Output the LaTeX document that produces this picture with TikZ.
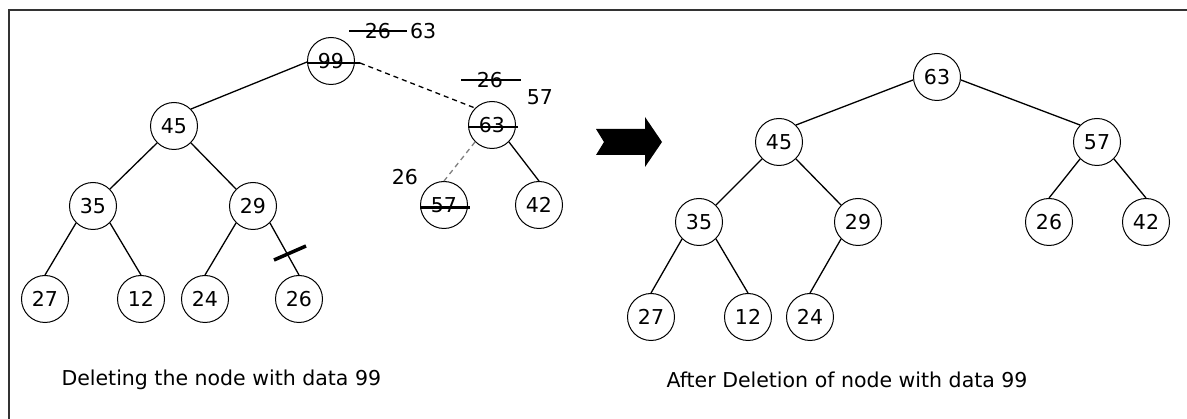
\documentclass[tikz,border=0pt]{standalone}
\usepackage{fontspec}
\setmainfont{DejaVu Sans}
\usetikzlibrary{positioning,calc}

\begin{document}
\begin{tikzpicture}[
			x=1pt, y=-1pt
			,every node/.append style={font=\fontsize{20.5}{24}\selectfont}
			,hn/.style={circle, draw, line width=1pt, minimum size=47pt, inner sep=0pt}
			,ln/.style={line width=1.3pt}
			,cut/.style={line width=2.2pt}
			,frame/.style={line width=1.6pt, black!80}
		]
			\useasboundingbox (0,0) rectangle (1187,419);
			\draw [frame] (9,419) -- (9,10) -- (1187,10);

			% before
			\node [hn] (L99) at (331,61) {99};
			\node [hn] (L45) at (174,126) {45};
			\node [hn] (L35) at (93,206) {35};
			\node [hn] (L29) at (253,206) {29};
			\node [hn] (L27) at (45,299) {27};
			\node [hn] (L12) at (141,299) {12};
			\node [hn] (L24) at (205,299) {24};
			\node [hn] (L26) at (299,299) {26};
			\node [hn] (L63) at (492,125) {63};
			\node [hn] (L57) at (444,205) {57};
			\node [hn] (L42) at (539,205) {42};
			\draw [ln] (L45.north east) -- ([yshift=-1pt]L99.west);
			\draw [ln] (L45.south west) -- (L35.north east);
			\draw [ln] (L45.south east) -- (L29.north west);
			\draw [ln] (L35.south west) -- (L27.north);
			\draw [ln] (L35.south east) -- (L12.north);
			\draw [ln] (L29.south west) -- (L24.north);
			\draw [ln] (L29.south east) -- (L26.north);
			\draw [ln] (L63.south east) -- (L42.north);
			\draw [ln, dash pattern=on 5pt off 4pt] ([xshift=5pt,yshift=-2pt]L99.east) -- (L63.north west);
			\draw [ln, gray, dash pattern=on 5pt off 4pt] (L63.south west) -- (L57.north);
			\draw [cut] ([yshift=-2pt]L99.west) -- ([xshift=5pt,yshift=-2pt]L99.east);
			\draw [cut] ([yshift=-2pt]L63.west) -- ([xshift=2pt,yshift=-2pt]L63.east);
			\draw [cut] ([yshift=-2.5pt]L57.west) -- ([xshift=2pt,yshift=-2.5pt]L57.east);
			\coordinate (X) at (290,253);
			\draw [line width=3.5pt] ([shift={(-16,7)}]X) -- ([shift={(16,-7)}]X);

			\node (T26) at (378,31) {26};
			\node [right=0pt of T26, xshift=12pt] (T63) {63};
			\draw [cut] ([xshift=-12pt]T26.west) -- (T63.west);
			\node (U26) at (490,80) {26};
			\draw [cut] ([xshift=-12pt]U26.west) -- ([xshift=14pt]U26.east);
			\node (U57) at (540,97) {57};
			\node (V26) at (405,177) {26};

			\fill (596,129) -- (645,129) -- (645,117) -- (662,142) -- (645,167)
				-- (645,155) -- (596,155) -- (604,142) -- cycle;

			% after
			\node [hn] (R63) at (937,77) {63};
			\node [hn] (R45) at (779,142) {45};
			\node [hn] (R57) at (1097,142) {57};
			\node [hn] (R35) at (699,222) {35};
			\node [hn] (R29) at (858,222) {29};
			\node [hn] (R26) at (1049,222) {26};
			\node [hn] (R42) at (1146,222) {42};
			\node [hn] (R27) at (651,317) {27};
			\node [hn] (R12) at (748,317) {12};
			\node [hn] (R24) at (810,317) {24};
			\draw [ln] ([yshift=-3pt]R63.west) -- (R45.north east);
			\draw [ln] ([yshift=-3pt]R63.east) -- (R57.north west);
			\draw [ln] (R45.south west) -- (R35.north east);
			\draw [ln] (R45.south east) -- (R29.north west);
			\draw [ln] (R57.south west) -- (R26.north);
			\draw [ln] (R57.south east) -- (R42.north);
			\draw [ln] (R35.south west) -- (R27.north);
			\draw [ln] (R35.south east) -- (R12.north);
			\draw [ln] (R29.south west) -- (R24.north);

			\node [anchor=west] (C1) at (58,380) {Deleting\ the\ node\ with\ data\ 99};
			\node [anchor=west] (C2) at (663,380) {After\ Deletion\ of\ node\ with\ data\ 99};
		\end{tikzpicture}
\end{document}
